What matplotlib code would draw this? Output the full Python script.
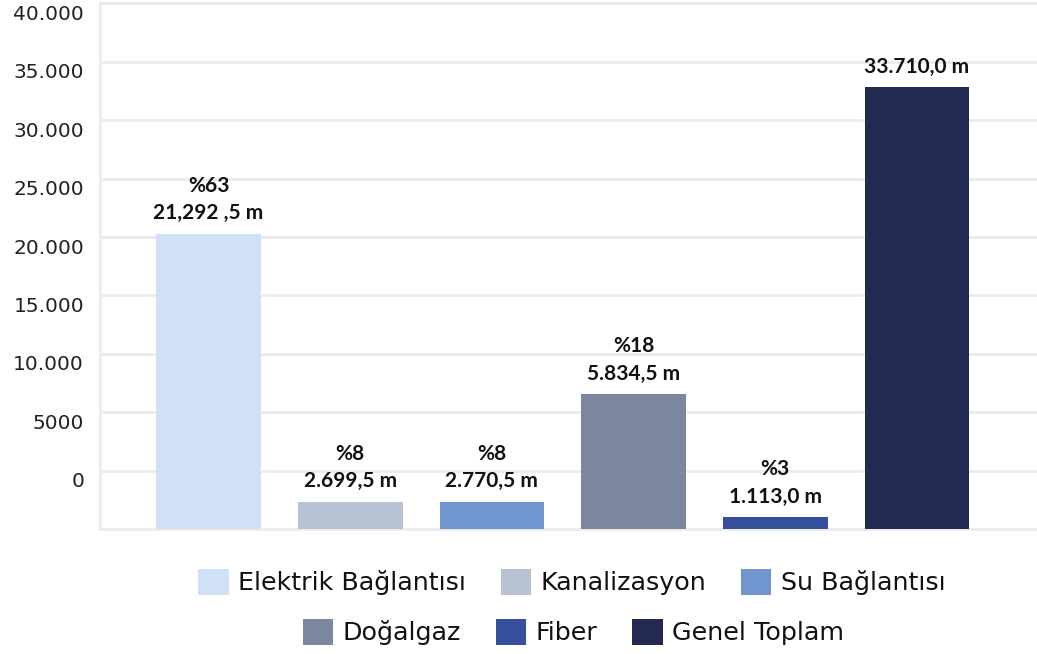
import matplotlib
matplotlib.use("Agg")
import matplotlib.pyplot as plt
from matplotlib.patches import Patch
from matplotlib.transforms import ScaledTranslation

plt.rcParams['font.family'] = ['Lato', 'DejaVu Sans']

# categories and values
categories = ["Elektrik Bağlantısı", "Kanalizasyon", "Su Bağlantısı",
              "Doğalgaz", "Fiber", "Genel Toplam"]
# bar tops as drawn on the (shifted) axis of the original chart
bar_tops = [20300, -2660, -2660, 6560, -3970, 32850]
bar_labels = ["%63\n21,292 ,5 m", "%8\n2.699,5 m", "%8\n2.770,5 m",
              "%18\n5.834,5 m", "%3\n1.113,0 m", "33.710,0 m"]
colors = ["#d0e1f7", "#b8c2d3", "#7196cf", "#7b879f", "#36509e", "#232a52"]

y_ticks = [-5000, 0, 5000, 10000, 15000, 20000, 25000, 30000, 35000, 40000]
y_tick_labels = ["", "0", "5000", "10.000", "15.000", "20.000",
                 "25.000", "30.000", "35.000", "40.000"]
axis_bottom = -5000

W, H = 1037, 654
fig = plt.figure(figsize=(W / 100, H / 100), dpi=100)
ax = fig.add_axes([100 / W, (H - 529) / H, (W - 100) / W, (529 - 3.5) / H])

x = list(range(len(categories)))
heights = [t - axis_bottom for t in bar_tops]
bars = ax.bar(x, heights, bottom=axis_bottom, width=0.739, color=colors,
              zorder=3)

for b, lab in zip(bars, bar_labels):
    ax.annotate(lab, (b.get_x() + b.get_width() / 2, b.get_y() + b.get_height()),
                xytext=(0, 7.5), textcoords="offset points", ha="center",
                va="bottom", fontsize=15, fontweight="bold", color="#111111",
                linespacing=1.45, zorder=4)

ax.set_xlim(-0.766, 5.847)
ax.set_ylim(axis_bottom, 40000)
ax.set_xticks([])
ax.set_yticks(y_ticks)
ax.set_yticklabels(y_tick_labels, family="DejaVu Sans")
ax.tick_params(axis="y", length=0, pad=11.5, labelsize=14.5, labelcolor="#222222")
# labels sit a little below their grid lines in the original
for lab in ax.get_yticklabels():
    lab.set_transform(lab.get_transform() + ScaledTranslation(0, -0.09, fig.dpi_scale_trans))

ax.grid(axis="y", color="#ebebeb", linewidth=2, zorder=0)
for gl in ax.get_ygridlines():
    gl.set_clip_on(False)
for side in ["top", "right", "bottom"]:
    ax.spines[side].set_visible(False)
ax.spines["left"].set_color("#ebebeb")
ax.spines["left"].set_linewidth(2)

handles = [Patch(facecolor=c, edgecolor="none") for c in colors]
leg_kw = dict(loc="center", ncol=3, frameon=False,
              prop={"family": "DejaVu Sans", "size": 18.3},
              handlelength=1.2, handleheight=1.2, handletextpad=0.38,
              columnspacing=1.35, borderpad=0, borderaxespad=0)
leg1 = fig.legend(handles[:3], categories[:3], bbox_to_anchor=(572 / W, (H - 582) / H), **leg_kw)
leg2 = fig.legend(handles[3:], categories[3:], bbox_to_anchor=(573.5 / W, (H - 632) / H), **leg_kw)
for leg in (leg1, leg2):
    for t in leg.get_texts():
        t.set_color("#111111")

fig.savefig("out.png", dpi=100)
